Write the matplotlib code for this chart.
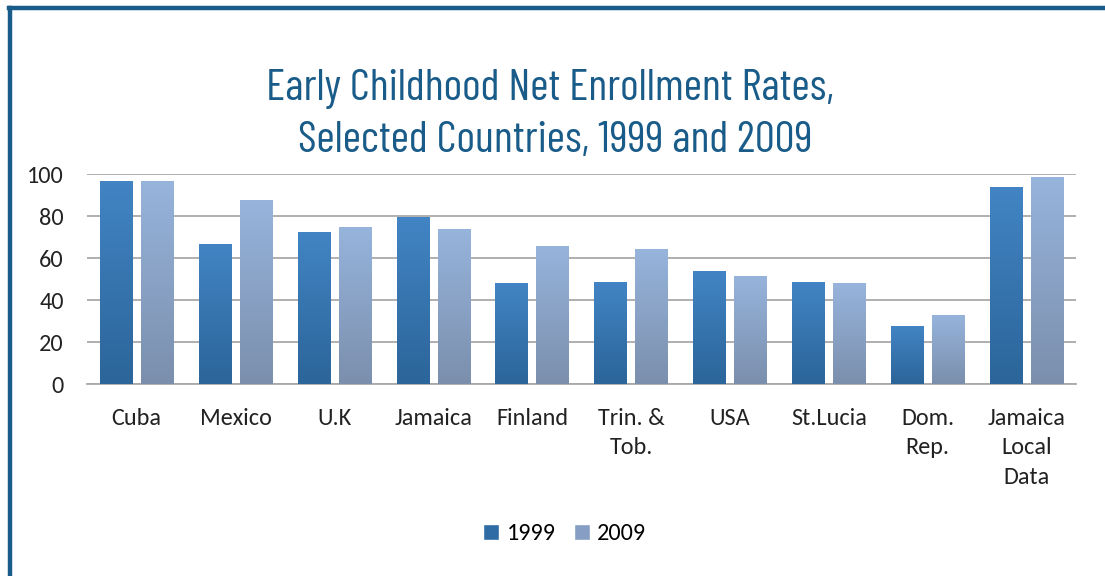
import numpy as np
import matplotlib
matplotlib.use("Agg")
import matplotlib.pyplot as plt
from matplotlib.colors import LinearSegmentedColormap
from matplotlib.lines import Line2D

# Data
countries = ["Cuba", "Mexico", "U.K", "Jamaica", "Finland", "Trin. &\nTob.",
             "USA", "St.Lucia", "Dom.\nRep.", "Jamaica\nLocal\nData"]
rates_1999 = [96.7, 66.5, 72.4, 79.5, 47.9, 48.7, 53.7, 48.7, 27.5, 93.7]
rates_2009 = [96.7, 87.5, 74.6, 73.7, 65.9, 64.4, 51.6, 48.0, 33.0, 98.7]
years = ["1999", "2009"]
title_lines = ["Early Childhood Net Enrollment Rates,", "Selected Countries, 1999 and 2009"]

title_color = "#1a5c89"
text_font = ["Carlito", "Open Sans", "DejaVu Sans"]
title_font = ["Barlow Condensed", "DejaVu Sans"]

fig = plt.figure(figsize=(11.05, 5.76), dpi=100)
ax = fig.add_axes([0.079, 0.3333, 0.8948, 0.3646])

x = np.arange(len(countries))
w = 0.33
off = 0.207
b1 = ax.bar(x - off, rates_1999, w, color="#3a78b5", zorder=2)
b2 = ax.bar(x + off, rates_2009, w, color="#8fa9d0", zorder=2)

# vertical gradient on each bar (top -> bottom)
cm1 = LinearSegmentedColormap.from_list("c1", ["#2b6599", "#4284c4"])
cm2 = LinearSegmentedColormap.from_list("c2", ["#7b8fad", "#97b4dc"])
grad = np.linspace(0, 1, 256).reshape(-1, 1)
for bars, cm in ((b1, cm1), (b2, cm2)):
    for r in bars:
        bx, by = r.get_x(), r.get_y()
        bw, bh = r.get_width(), r.get_height()
        im = ax.imshow(grad, cmap=cm, origin="lower", aspect="auto",
                       extent=[bx, bx + bw, by, by + bh], zorder=3)
        im.set_clip_path(r)

ax.set_xlim(-0.5, len(countries) - 0.5)
ax.set_ylim(0, 100)
ax.set_yticks(range(0, 101, 20))
ax.yaxis.grid(True, color="#a9a9a9", linewidth=1.3, zorder=1)
ax.set_axisbelow(True)
for s in ["top", "right", "left"]:
    ax.spines[s].set_visible(False)
ax.spines["bottom"].set_color("#a9a9a9")
ax.spines["bottom"].set_linewidth(1.3)
ax.tick_params(axis="both", length=0, colors="#222222")
ax.tick_params(axis="y", pad=17)
ax.tick_params(axis="x", pad=17)
ax.set_xticks(x)
ax.set_xticklabels(countries, linespacing=1.5)
for lab in ax.get_xticklabels() + ax.get_yticklabels():
    lab.set_family(text_font)
    lab.set_fontsize(17.5)

# Title
fig.text(0.498, 0.8264, title_lines[0], ha="center", va="baseline",
         color=title_color, fontsize=32, family=title_font)
fig.text(0.502, 0.7361, title_lines[1], ha="center", va="baseline",
         color=title_color, fontsize=32, family=title_font)

# Legend
handles = [Line2D([0], [0], marker="s", color="w", markerfacecolor="#2f6ca6",
                  markersize=11, label=years[0]),
           Line2D([0], [0], marker="s", color="w", markerfacecolor="#869dc4",
                  markersize=11, label=years[1])]
fig.legend(handles=handles, loc="center", bbox_to_anchor=(0.511, 0.073), ncol=2,
           frameon=False, handlelength=0.7, handletextpad=0.3, columnspacing=0.7,
           prop={"family": text_font, "size": 17.5})

# Frame
fig.add_artist(Line2D([0.0091, 0.0091], [0, 0.9861], color=title_color, lw=3.2,
                      transform=fig.transFigure))
fig.add_artist(Line2D([0.0077, 1.0], [0.9861, 0.9861], color=title_color, lw=3.2,
                      transform=fig.transFigure))

fig.savefig("out.png", dpi=100)
